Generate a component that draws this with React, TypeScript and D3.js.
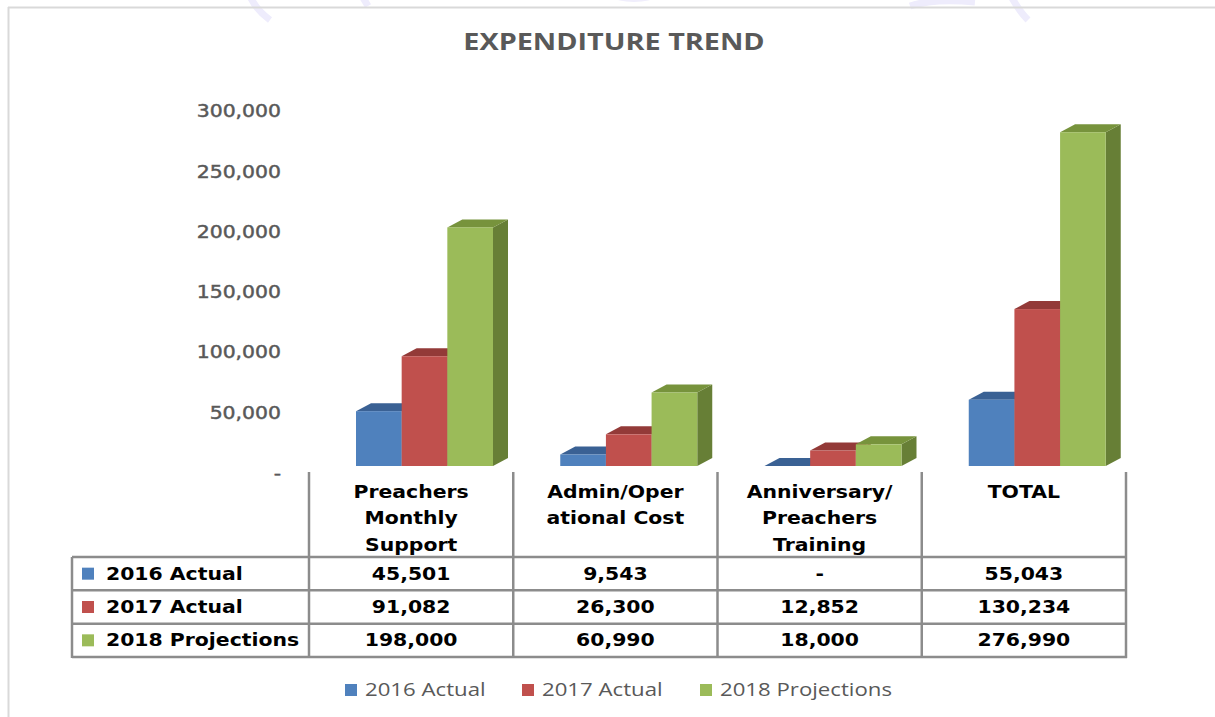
import * as d3 from "d3";

const categories = ["Preachers Monthly Support", "Admin/Operational Cost", "Anniversary/Preachers Training", "TOTAL"];
const headerLines = [["Preachers", "Monthly", "Support"], ["Admin/Oper", "ational Cost"], ["Anniversary/", "Preachers", "Training"], ["TOTAL"]];
const seriesNames = ["2016 Actual", "2017 Actual", "2018 Projections"];
const actual2016 = [45501, 9543, 0, 55043];
const actual2017 = [91082, 26300, 12852, 130234];
const projections2018 = [198000, 60990, 18000, 276990];
const yTicks = [0, 50000, 100000, 150000, 200000, 250000, 300000];

const frontColors = ["#4F81BD", "#C0504D", "#9BBB59"];
const topColors = ["#3A6194", "#933A38", "#77933C"];
const sideColors = ["#345781", "#85332F", "#677F36"];

const W = 1215;
const H = 717;
const SX = 1.2; // the source picture is stretched sideways
const DX = 15;
const DY = -8;
const gridGrey = "#8c8c8c";
const tableLeft = 72;
const headerTop = 472;
const legendX = [345, 522, 700];

const fmt = d3.format(",");
const label = (v: number) => (v === 0 ? "-" : fmt(v));

function T({ x, y, anchor = "middle", size, weight = "normal", fill = "#000", family = "DejaVu Sans", stroke, children }: any) {
    return (
        <text
            transform={`translate(${x},${y}) scale(${SX},1)`}
            textAnchor={anchor}
            dy="0.35em"
            fontSize={size}
            fontWeight={weight}
            fill={fill}
            stroke={stroke}
            strokeWidth={stroke ? 0.45 : undefined}
            fontFamily={family}
        >
            {children}
        </text>
    );
}

export default function App() {
    const series = [actual2016, actual2017, projections2018];

    const x = d3.scaleBand<string>().domain(categories).range([309, 1126]);
    const inner = d3.scaleBand<string>().domain(seriesNames).range([47, 184]);
    const y = d3.scaleLinear().domain([0, 300000]).range([466, 104.5]);
    const rows = d3.scaleBand<string>().domain(seriesNames).range([557, 657]);
    const bw = inner.bandwidth();
    const base = y(0);

    return (
        <svg width={W} height={H} style={{ position: "absolute", left: 0, top: 0, display: "block", background: "#fff" }}>
            {/* faint watermark remnants at the top edge */}
            <g fill="none" stroke="#eeecfc" strokeWidth={7}>
                <path d="M250,-4 Q256,10 270,20" />
                <path d="M362,-4 L368,6" />
                <path d="M910,6 Q935,-2 975,2" />
                <path d="M1012,-2 Q1020,12 1028,20" />
            </g>
            <ellipse cx={634} cy={-3} rx={20} ry={5} fill="#f0eefc" />

            {/* frame */}
            <line x1={8} x2={W} y1={7.5} y2={7.5} stroke="#d9d9d9" strokeWidth={2} />
            <line x1={8.5} x2={8.5} y1={7} y2={H} stroke="#d9d9d9" strokeWidth={2} />

            <T x={614} y={42} size={24} weight="bold" fill="#595959" family="Open Sans">
                EXPENDITURE TREND
            </T>

            {/* y axis labels */}
            {yTicks.map(t => (
                <T key={t} x={281} y={y(t) + 7} anchor="end" size={17} fill="#595959" stroke="#595959">
                    {label(t)}
                </T>
            ))}

            {/* 3D bars */}
            {categories.map((c, ci) => (
                <g key={c}>
                    {seriesNames.map((s, si) => {
                        const v = series[si][ci];
                        const x0 = (x(c) as number) + (inner(s) as number);
                        const yt = y(v);
                        return (
                            <g key={s}>
                                <polygon
                                    points={`${x0 + bw},${yt} ${x0 + bw + DX},${yt + DY} ${x0 + bw + DX},${base + DY} ${x0 + bw},${base}`}
                                    fill={sideColors[si]}
                                />
                                <polygon
                                    points={`${x0},${yt} ${x0 + DX},${yt + DY} ${x0 + bw + DX},${yt + DY} ${x0 + bw},${yt}`}
                                    fill={topColors[si]}
                                />
                                {v > 0 && <rect x={x0} y={yt} width={bw} height={base - yt} fill={frontColors[si]} />}
                            </g>
                        );
                    })}
                </g>
            ))}

            {/* data table */}
            <g stroke={gridGrey} strokeWidth={2.5}>
                {categories.map(c => (
                    <line key={c} x1={x(c)} x2={x(c)} y1={headerTop} y2={657} />
                ))}
                <line x1={1126} x2={1126} y1={headerTop} y2={658} />
                <line x1={tableLeft} x2={tableLeft} y1={557} y2={658} />
                {seriesNames.map(s => (
                    <line key={s} x1={tableLeft} x2={1127} y1={rows(s)} y2={rows(s)} />
                ))}
                <line x1={tableLeft} x2={1127} y1={657} y2={657} />
            </g>

            {categories.map((c, ci) => (
                <g key={c}>
                    {headerLines[ci].map((ln, li) => (
                        <T key={li} x={(x(c) as number) + x.bandwidth() / 2} y={492 + li * 26.5} size={17} weight="bold">
                            {ln}
                        </T>
                    ))}
                </g>
            ))}

            {seriesNames.map((s, si) => {
                const cy = (rows(s) as number) + rows.bandwidth() / 2;
                return (
                    <g key={s}>
                        <rect x={82} y={cy - 6} width={12} height={12} fill={frontColors[si]} />
                        <T x={106} y={cy} anchor="start" size={17} weight="bold">
                            {s}
                        </T>
                        {categories.map((c, ci) => (
                            <T key={c} x={(x(c) as number) + x.bandwidth() / 2} y={cy} size={17} weight="bold">
                                {label(series[si][ci])}
                            </T>
                        ))}
                    </g>
                );
            })}

            {/* legend */}
            {seriesNames.map((s, si) => (
                <g key={s}>
                    <rect x={legendX[si]} y={684} width={12} height={12} fill={frontColors[si]} />
                    <T x={legendX[si] + 20} y={690} anchor="start" size={18.5} fill="#595959" family="Open Sans">
                        {s}
                    </T>
                </g>
            ))}
        </svg>
    );
}
